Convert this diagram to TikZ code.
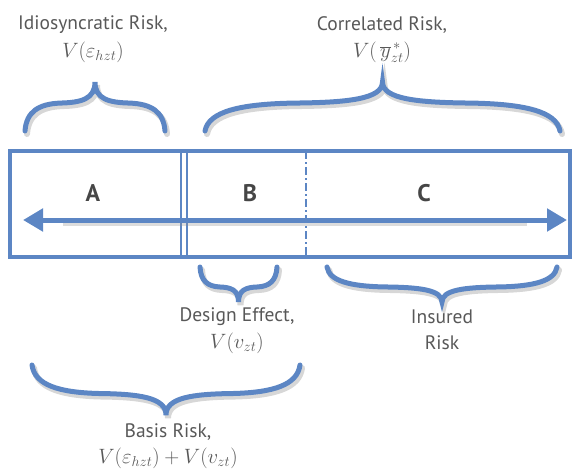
\documentclass[tikz,border=0pt]{standalone}
\usepackage{fontspec}
\setmainfont{PT Sans}
\usetikzlibrary{arrows.meta}
\definecolor{bl}{RGB}{92,134,196}
\definecolor{tx}{RGB}{88,88,88}
\definecolor{tl}{RGB}{70,70,70}
\newcommand\mybrace[4]{% x1, x2, yend, ytip
  \pgfmathsetmacro\xm{(#1+#2)/2}
  \pgfmathsetmacro\hh{#4-#3}
  \pgfmathsetmacro\ww{\xm-#1}
  \foreach \dx/\dy/\st in {2/3/shad,0/0/brc}{
  \draw[\st, shift={(\dx,\dy)}]
    (#1,#3) .. controls (#1+0.02*\ww,#3+0.4*\hh) and (#1+0.2*\ww,#3+0.55*\hh) ..
    (#1+0.5*\ww,#3+0.57*\hh) .. controls (#1+0.8*\ww,#3+0.58*\hh) and (\xm,#3+0.65*\hh) ..
    (\xm,#4) .. controls (\xm,#3+0.65*\hh) and (#2-0.8*\ww,#3+0.58*\hh) ..
    (#2-0.5*\ww,#3+0.57*\hh) .. controls (#2-0.2*\ww,#3+0.55*\hh) and (#2-0.02*\ww,#3+0.4*\hh) ..
    (#2,#3);}
}
\begin{document}
\begin{tikzpicture}[x=1pt,y=-1pt,
  brc/.style={draw=bl, line width=5pt, line cap=round},
  shad/.style={draw=black!45, opacity=0.35, line width=6pt, line cap=round},
  lbl/.style={text=tx, font=\fontsize{19.5}{22}\selectfont, inner sep=0pt},
  mth/.style={text=tx, font=\fontsize{21}{24}\selectfont, inner sep=0pt},
  seg/.style={text=tl, font=\fontsize{24}{26}\selectfont\bfseries, inner sep=0pt}]
\useasboundingbox (0,0) rectangle (572,472);

% box
\node[draw=bl, line width=3.5pt, minimum width=560pt, minimum height=106pt, inner sep=0pt] (box) at (290,204) {};
\draw[bl, line width=2.8pt] (181,151) -- (181,257);
\draw[bl, line width=2.8pt] (187,151) -- (187,257);
\draw[bl, line width=2.2pt, dash pattern=on 8pt off 3pt on 2pt off 3pt] (306,151) -- (306,257);

% arrow
\coordinate (la) at (23,220);
\coordinate (ra) at (567,220);
\draw[black!45, opacity=0.3, line width=6pt] ([shift={(40,3)}]la) -- ([shift={(-40,3)}]ra);
\draw[bl, line width=5pt, {Triangle[length=20pt,width=22pt]}-{Triangle[length=20pt,width=22pt]}] (la) -- (ra);

\node[seg] (A) at (93,193) {A};
\node[seg] (B) at (250,193) {B};
\node[seg] (C) at (424,193) {C};

% braces
\mybrace{25}{165}{131}{82}
\mybrace{205}{560}{131}{82}
\mybrace{200}{277}{267}{302}
\mybrace{327}{557}{267}{302}
\mybrace{32}{300}{365}{415}

% labels
\node[lbl] (idio) at (93,25) {Idiosyncratic Risk,};
\node[mth] (idiom) at (93,52) {$V(\varepsilon_{hzt})$};
\node[lbl] (corr) at (382,25) {Correlated Risk,};
\node[mth] (corrm) at (382,52) {$V(\,\overline{y}^{\,*}_{zt})$};
\node[lbl] (des) at (237,317) {Design Effect,};
\node[mth] (desm) at (237,343) {$V(v_{zt})$};
\node[lbl] (ins) at (442,317) {Insured};
\node[lbl] (insr) at (442,343) {Risk};
\node[lbl] (bas) at (168,432) {Basis Risk,};
\node[mth] (basm) at (168,458) {$V(\varepsilon_{hzt})+V(v_{zt})$};
\end{tikzpicture}
\end{document}
